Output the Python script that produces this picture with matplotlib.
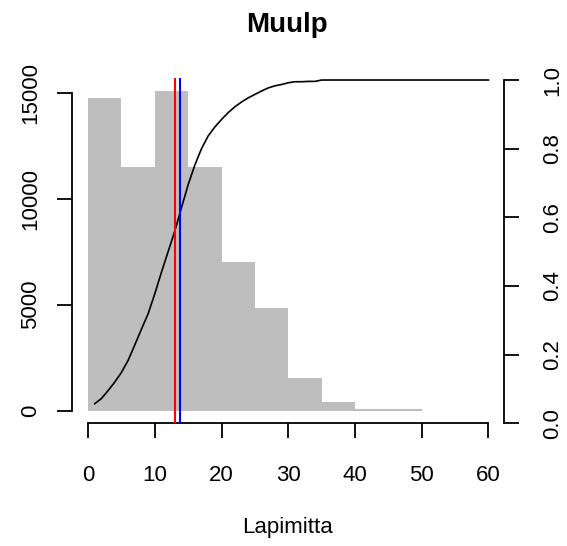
import matplotlib
matplotlib.use("Agg")
import matplotlib.pyplot as plt

plt.rcParams['font.family'] = ['Liberation Sans', 'DejaVu Sans']

# Histogram data (bin edges every 5)
bin_left = [0, 5, 10, 15, 20, 25, 30, 35, 40, 45]
bin_width = 5
counts = [14760, 11480, 15070, 11480, 7010, 4830, 1550, 400, 80, 70]

# Cumulative curve
cdf_x = [1, 2, 3, 4, 5, 6, 7, 8, 9, 10, 11, 12, 13, 14, 15, 16, 17, 18, 19, 20,
         21, 22, 23, 24, 25, 26, 27, 28, 29, 30, 31, 32, 33, 34, 35, 60]
cdf_y = [0.057, 0.072, 0.095, 0.12, 0.148, 0.183, 0.228, 0.274, 0.319, 0.377,
         0.44, 0.50, 0.56, 0.628, 0.695, 0.752, 0.80, 0.837, 0.863, 0.885,
         0.905, 0.922, 0.936, 0.948, 0.958, 0.968, 0.977, 0.983, 0.987, 0.992,
         0.995, 0.995, 0.996, 0.996, 1.0, 1.0]

mean_red = 13.0
mean_blue = 13.75

x_ticks = [0, 10, 20, 30, 40, 50, 60]
y_ticks = [0, 5000, 10000, 15000]
y2_ticks = [0.0, 0.2, 0.4, 0.6, 0.8, 1.0]

W, H = 567, 546
fig = plt.figure(figsize=(W / 100, H / 100), dpi=100)
left_px, right_px, top_px, bot_px = 72, 504.5, 78.3, 423.3
ax = fig.add_axes([left_px / W, 1 - bot_px / H, (right_px - left_px) / W, (bot_px - top_px) / H])

ax.bar(bin_left, counts, width=bin_width, align='edge', color='#BEBEBE', edgecolor='none')
ax.set_xlim(-2.4, 62.4)
ax.set_ylim(-603, 15673)

for s in ['top', 'right']:
    ax.spines[s].set_visible(False)
ax.spines['left'].set_bounds(0, 15000)
ax.spines['bottom'].set_bounds(0, 60)
for s in ['left', 'bottom']:
    ax.spines[s].set_linewidth(1.3)

ax.set_xticks(x_ticks)
ax.set_xticklabels([str(v) for v in x_ticks], fontsize=16)
ax.set_yticks(y_ticks)
ax.set_yticklabels([str(v) for v in y_ticks], fontsize=16, rotation=90, va='center')
ax.tick_params(axis='x', direction='out', length=11, width=1.3, pad=19)
ax.tick_params(axis='y', direction='out', length=11, width=1.3, pad=11)

ax2 = ax.twinx()
ax2.plot(cdf_x, cdf_y, color='black', linewidth=1.2)
ax2.set_ylim(0, 1.005)
ax2.set_xlim(-2.4, 62.4)
for s in ['top', 'left', 'bottom']:
    ax2.spines[s].set_visible(False)
ax2.spines['right'].set_bounds(0, 1)
ax2.spines['right'].set_linewidth(1.3)
ax2.set_yticks(y2_ticks)
ax2.set_yticklabels(['%.1f' % v for v in y2_ticks], fontsize=16, rotation=90, va='center')
ax2.tick_params(axis='y', direction='out', length=11, width=1.3, pad=16)

ax2.axvline(mean_red, color='red', linewidth=1.5)
ax2.axvline(mean_blue, color='blue', linewidth=1.5)

fig.text(287 / W, 1 - 32 / H, 'Muulp', ha='center', va='baseline', fontsize=20, fontweight='bold')
fig.text(288 / W, 1 - 528 / H, 'Lapimitta', ha='center', va='center', fontsize=16)

fig.savefig('out.png', dpi=100)
